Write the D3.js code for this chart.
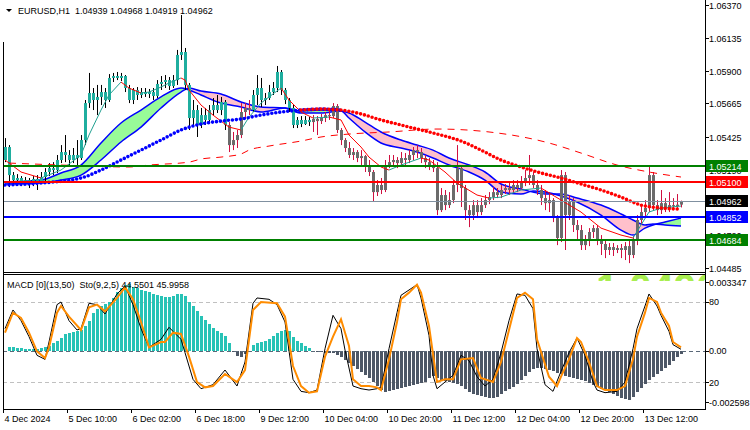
<!DOCTYPE html>
<html>
<head>
<meta charset="utf-8">
<script src="https://cdn.jsdelivr.net/npm/d3@7"></script>
<style>
  body { margin: 0; background: #fff; }
  svg { display: block; font-family: "Liberation Sans", Arial, sans-serif; font-size: 9px; }
</style>
</head>
<body>
<svg id="chart" width="750" height="430"></svg>
<script>
// ---- data ----
const symbol = "EURUSD,H1";
const lastQuote = [1.04939, 1.04968, 1.04919, 1.04962];

// hourly candles [open, high, low, close]
const candles = [
  [1.05259,1.05416,1.05244,1.05352],[1.05352,1.05366,1.05065,1.05151],[1.05151,1.05173,1.05080,1.05115],[1.05115,1.05158,1.05087,1.05130],
  [1.05130,1.05144,1.05072,1.05101],[1.05101,1.05137,1.05080,1.05115],[1.05115,1.05130,1.05058,1.05094],[1.05094,1.05144,1.05072,1.05123],
  [1.05123,1.05151,1.05044,1.05108],[1.05108,1.05173,1.05087,1.05137],[1.05137,1.05201,1.05101,1.05173],[1.05173,1.05237,1.05144,1.05201],
  [1.05201,1.05244,1.05151,1.05187],[1.05187,1.05295,1.05166,1.05259],[1.05259,1.05366,1.05237,1.05316],[1.05316,1.05438,1.05244,1.05295],
  [1.05295,1.05330,1.05223,1.05259],[1.05259,1.05345,1.05237,1.05295],[1.05295,1.05402,1.05223,1.05273],[1.05273,1.05438,1.05259,1.05402],
  [1.05402,1.05689,1.05366,1.05667],[1.05667,1.05883,1.05632,1.05739],[1.05739,1.05775,1.05617,1.05689],[1.05689,1.05797,1.05581,1.05711],
  [1.05711,1.05797,1.05653,1.05746],[1.05746,1.05775,1.05632,1.05689],[1.05689,1.05875,1.05675,1.05847],[1.05847,1.05883,1.05818,1.05861],
  [1.05861,1.05890,1.05832,1.05847],[1.05847,1.05883,1.05825,1.05861],[1.05861,1.05868,1.05746,1.05775],[1.05775,1.05797,1.05667,1.05689],
  [1.05689,1.05775,1.05660,1.05761],[1.05761,1.05782,1.05689,1.05725],[1.05725,1.05775,1.05703,1.05746],[1.05746,1.05775,1.05711,1.05732],
  [1.05732,1.05768,1.05703,1.05746],[1.05746,1.05775,1.05689,1.05718],[1.05718,1.05832,1.05703,1.05804],[1.05804,1.05861,1.05761,1.05818],
  [1.05818,1.05868,1.05775,1.05832],[1.05832,1.05854,1.05761,1.05789],[1.05789,1.05868,1.05775,1.05832],[1.05832,1.06048,1.05797,1.06012],
  [1.06012,1.06298,1.05976,1.06033],[1.06033,1.06062,1.05761,1.05797],[1.05797,1.05811,1.05474,1.05560],[1.05560,1.05689,1.05510,1.05617],
  [1.05617,1.05653,1.05424,1.05510],[1.05510,1.05632,1.05488,1.05581],[1.05581,1.05632,1.05510,1.05546],[1.05546,1.05653,1.05517,1.05617],
  [1.05617,1.05703,1.05581,1.05653],[1.05653,1.05725,1.05596,1.05617],[1.05617,1.05711,1.05581,1.05675],[1.05675,1.05689,1.05474,1.05510],
  [1.05510,1.05531,1.05316,1.05366],[1.05366,1.05460,1.05330,1.05402],[1.05402,1.05474,1.05345,1.05438],[1.05438,1.05667,1.05416,1.05603],
  [1.05603,1.05667,1.05560,1.05632],[1.05632,1.05689,1.05581,1.05617],[1.05617,1.05761,1.05603,1.05725],[1.05725,1.05868,1.05653,1.05775],
  [1.05775,1.05847,1.05639,1.05689],[1.05689,1.05739,1.05653,1.05703],[1.05703,1.05797,1.05689,1.05746],[1.05746,1.05818,1.05725,1.05775],
  [1.05775,1.05933,1.05746,1.05890],[1.05890,1.05904,1.05725,1.05761],[1.05761,1.05775,1.05660,1.05689],[1.05689,1.05703,1.05603,1.05632],
  [1.05632,1.05653,1.05488,1.05510],[1.05510,1.05567,1.05488,1.05546],[1.05546,1.05574,1.05495,1.05517],[1.05517,1.05574,1.05510,1.05546],
  [1.05546,1.05567,1.05503,1.05531],[1.05531,1.05581,1.05460,1.05553],[1.05553,1.05574,1.05438,1.05538],[1.05538,1.05589,1.05517,1.05560],
  [1.05560,1.05603,1.05531,1.05581],[1.05581,1.05617,1.05546,1.05574],[1.05574,1.05667,1.05560,1.05646],[1.05646,1.05660,1.05452,1.05474],
  [1.05474,1.05488,1.05366,1.05402],[1.05402,1.05416,1.05316,1.05345],[1.05345,1.05388,1.05273,1.05295],[1.05295,1.05345,1.05259,1.05316],
  [1.05316,1.05330,1.05244,1.05273],[1.05273,1.05330,1.05223,1.05287],[1.05287,1.05295,1.05173,1.05223],[1.05223,1.05259,1.05144,1.05173],
  [1.05173,1.05187,1.04958,1.05029],[1.05029,1.05115,1.05001,1.05080],[1.05080,1.05130,1.05015,1.05044],[1.05044,1.05259,1.05029,1.05223],
  [1.05223,1.05295,1.05201,1.05244],[1.05244,1.05295,1.05216,1.05259],[1.05259,1.05280,1.05201,1.05237],[1.05237,1.05316,1.05216,1.05273],
  [1.05273,1.05309,1.05223,1.05259],[1.05259,1.05330,1.05237,1.05295],[1.05295,1.05352,1.05259,1.05330],[1.05330,1.05366,1.05273,1.05316],
  [1.05316,1.05345,1.05237,1.05273],[1.05273,1.05295,1.05201,1.05244],[1.05244,1.05273,1.05187,1.05223],[1.05223,1.05259,1.05173,1.05201],
  [1.05201,1.05244,1.04864,1.04900],[1.04900,1.05058,1.04886,1.05008],[1.05008,1.05044,1.04900,1.04936],[1.04936,1.05029,1.04915,1.04972],
  [1.04972,1.05115,1.04950,1.05080],[1.05080,1.05366,1.05029,1.05201],[1.05201,1.05223,1.04922,1.05058],[1.05058,1.05080,1.04829,1.04900],
  [1.04900,1.04936,1.04778,1.04864],[1.04864,1.04972,1.04829,1.04936],[1.04936,1.04972,1.04843,1.04886],[1.04886,1.04986,1.04864,1.04936],
  [1.04936,1.05008,1.04915,1.04972],[1.04972,1.05029,1.04943,1.04993],[1.04993,1.05065,1.04972,1.05029],[1.05029,1.05058,1.04986,1.05008],
  [1.05008,1.05080,1.04986,1.05044],[1.05044,1.05087,1.05015,1.05058],[1.05058,1.05094,1.05008,1.05044],[1.05044,1.05115,1.05022,1.05080],
  [1.05080,1.05115,1.05029,1.05058],[1.05058,1.05144,1.05044,1.05101],[1.05101,1.05187,1.05072,1.05130],[1.05130,1.05295,1.05080,1.05151],
  [1.05151,1.05173,1.05058,1.05080],[1.05080,1.05115,1.05008,1.05044],[1.05044,1.05080,1.04936,1.04986],[1.04986,1.05044,1.04900,1.04950],
  [1.04950,1.05022,1.04886,1.04972],[1.04972,1.04986,1.04814,1.04843],[1.04843,1.04864,1.04649,1.04700],[1.04700,1.05187,1.04671,1.05151],
  [1.05151,1.05173,1.04614,1.04864],[1.04864,1.05008,1.04829,1.04958],[1.04958,1.04986,1.04743,1.04793],[1.04793,1.04829,1.04685,1.04757],
  [1.04757,1.04793,1.04614,1.04649],[1.04649,1.04721,1.04614,1.04685],[1.04685,1.04771,1.04642,1.04743],[1.04743,1.04793,1.04700,1.04771],
  [1.04771,1.04793,1.04649,1.04685],[1.04685,1.04721,1.04578,1.04657],[1.04657,1.04685,1.04556,1.04614],[1.04614,1.04664,1.04578,1.04635],
  [1.04635,1.04664,1.04571,1.04614],[1.04614,1.04649,1.04592,1.04628],[1.04628,1.04657,1.04556,1.04614],[1.04614,1.04671,1.04542,1.04642],
  [1.04642,1.04685,1.04520,1.04578],[1.04578,1.04714,1.04556,1.04685],[1.04685,1.04864,1.04649,1.04829],[1.04829,1.04936,1.04793,1.04886],
  [1.04886,1.04972,1.04843,1.04915],[1.04915,1.05223,1.04886,1.05151],[1.05151,1.05173,1.04900,1.04936],[1.04936,1.04972,1.04864,1.04900],
  [1.04900,1.05044,1.04872,1.04950],[1.04950,1.04986,1.04886,1.04915],[1.04915,1.05029,1.04886,1.04936],[1.04936,1.04986,1.04900,1.04929],
  [1.04929,1.05015,1.04900,1.04939],[1.04939,1.04968,1.04919,1.04962]
];
// bar ranges painted in the "up trend" colour
const tealRuns = [[0, 55], [62, 76]];

const timeLabels = ["4 Dec 2024", "5 Dec 10:00", "6 Dec 02:00", "6 Dec 18:00", "9 Dec 12:00", "10 Dec 04:00",
                    "10 Dec 20:00", "11 Dec 12:00", "12 Dec 04:00", "12 Dec 20:00", "13 Dec 12:00"];
const priceTicks = [1.06370, 1.06135, 1.05900, 1.05665, 1.05425, 1.05190, 1.04955, 1.04720, 1.04485];
const levels = [1.05214, 1.05100, 1.04962, 1.04852, 1.04684];

// dotted moving average (blue while rising, red while falling)
const dotMaBars = [0,9,19,24,29,34,39,44,49,54,59,64,69,74,79,84,89,94,99,104,109,114,119,124,129,134,139,144,149,154,159,164,169];
const dotMaValues = [1.05080,1.05094,1.05130,1.05187,1.05259,1.05330,1.05402,1.05474,1.05517,1.05538,1.05553,1.05581,1.05603,1.05617,
  1.05624,1.05617,1.05589,1.05546,1.05510,1.05474,1.05438,1.05395,1.05330,1.05259,1.05209,1.05166,1.05130,1.05087,1.05044,1.04993,
  1.04936,1.04915,1.04907];

// dashed slow moving average
const slowMaBars = [1,14,31,36,46,49,54,59,61,66,74,79,86,96,108,121,136,144,153,161,169];
const slowMaValues = [1.05237,1.05223,1.05209,1.05223,1.05244,1.05266,1.05280,1.05302,1.05330,1.05359,1.05395,1.05424,1.05445,
  1.05460,1.05481,1.05460,1.05381,1.05309,1.05223,1.05173,1.05137];

// ribbon: fast and slow lines
const ribbonBars = [0,9,14,19,24,29,34,39,44,46,49,54,59,64,70,74,79,84,86,90,94,99,103,107,111,116,120,124,129,132,135,139,143,
  149,154,157,160,162,165,169];
const ribbonFast = [1.05101,1.05115,1.05166,1.05223,1.05381,1.05524,1.05617,1.05711,1.05775,1.05761,1.05725,1.05667,1.05639,1.05603,
  1.05632,1.05610,1.05617,1.05610,1.05560,1.05460,1.05381,1.05345,1.05316,1.05273,1.05223,1.05173,1.05115,1.05029,1.05015,1.05036,
  1.05029,1.05001,1.04958,1.04864,1.04757,1.04721,1.04771,1.04793,1.04814,1.04843];
const ribbonSlow = [1.05087,1.05094,1.05115,1.05151,1.05259,1.05388,1.05495,1.05632,1.05746,1.05775,1.05753,1.05732,1.05675,1.05639,
  1.05632,1.05596,1.05596,1.05610,1.05596,1.05531,1.05460,1.05402,1.05366,1.05330,1.05273,1.05223,1.05173,1.05087,1.05051,1.05029,
  1.05015,1.05015,1.04986,1.04936,1.04872,1.04829,1.04793,1.04800,1.04793,1.04786];

// thin fast moving average
const fastMaBars = [0,4,9,14,19,21,24,26,29,31,34,36,39,41,44,45,46,49,52,56,59,61,64,66,69,71,74,77,81,84,86,89,91,94,96,99,104,
  106,110,113,118,121,124,129,134,139,144,149,154,157,159,161,164,169];
const fastMaValues = [1.05259,1.05173,1.05130,1.05187,1.05295,1.05438,1.05617,1.05725,1.05818,1.05775,1.05739,1.05746,1.05782,
  1.05811,1.05847,1.05832,1.05761,1.05653,1.05581,1.05495,1.05474,1.05567,1.05667,1.05711,1.05775,1.05689,1.05603,1.05560,1.05567,
  1.05546,1.05438,1.05352,1.05280,1.05209,1.05187,1.05223,1.05273,1.05259,1.05173,1.05094,1.05008,1.04986,1.04993,1.05044,1.05058,
  1.04972,1.04886,1.04771,1.04721,1.04700,1.04793,1.04886,1.04915,1.04929];

// MACD histogram, one value per bar
const macdRange = [-0.002598, 0.003347];
const macdHist = [
  -0.00004,0.00018,0.00018,0.00013,0.00013,0.00009,0.00009,0.00009,0.00009,0.00013,0.00018,0.00022,0.00036,0.00045,0.00058,0.00076,
  0.00080,0.00085,0.00089,0.00094,0.00112,0.00134,0.00170,0.00188,0.00201,0.00210,0.00219,0.00237,0.00264,0.00282,0.00295,0.00299,
  0.00286,0.00282,0.00273,0.00268,0.00264,0.00255,0.00250,0.00246,0.00241,0.00241,0.00246,0.00255,0.00255,0.00246,0.00219,0.00201,
  0.00179,0.00156,0.00139,0.00121,0.00103,0.00089,0.00080,0.00067,0.00036,-0.00004,-0.00022,-0.00027,-0.00013,0.00001,0.00027,0.00036,
  0.00040,0.00045,0.00054,0.00067,0.00080,0.00089,0.00094,0.00089,0.00063,0.00045,0.00036,0.00022,0.00013,-0.00004,-0.00004,-0.00004,
  -0.00009,-0.00009,-0.00009,-0.00018,-0.00027,-0.00040,-0.00054,-0.00067,-0.00080,-0.00094,-0.00107,-0.00121,-0.00139,-0.00156,-0.00174,-0.00183,
  -0.00179,-0.00174,-0.00170,-0.00165,-0.00161,-0.00156,-0.00152,-0.00148,-0.00143,-0.00139,-0.00121,-0.00112,-0.00121,-0.00130,-0.00134,-0.00139,
  -0.00143,-0.00148,-0.00156,-0.00170,-0.00183,-0.00192,-0.00197,-0.00201,-0.00206,-0.00210,-0.00210,-0.00206,-0.00192,-0.00179,-0.00170,-0.00161,
  -0.00148,-0.00130,-0.00112,-0.00094,-0.00080,-0.00076,-0.00076,-0.00080,-0.00085,-0.00089,-0.00098,-0.00103,-0.00112,-0.00116,-0.00121,-0.00125,
  -0.00130,-0.00134,-0.00143,-0.00152,-0.00161,-0.00170,-0.00174,-0.00183,-0.00192,-0.00201,-0.00210,-0.00215,-0.00219,-0.00206,-0.00183,-0.00165,
  -0.00148,-0.00130,-0.00116,-0.00103,-0.00089,-0.00076,-0.00063,-0.00045,-0.00027,-0.00013
];

// stochastic %K (black) and %D (orange)
const stochLevels = [80, 20];
const stochMainBars = [0,2,4,6,8,10,11,13,14,16,18,19,21,23,25,28,30,32,34,36,39,41,42,44,45,47,49,52,55,58,60,62,63,66,68,70,72,
  74,76,78,80,82,84,85,87,89,91,93,94,96,98,99,101,103,104,106,107,108,110,112,114,116,118,120,122,124,126,128,130,132,133,135,137,
  139,141,143,145,147,148,150,153,155,157,158,160,161,163,164,166,167,169];
const stochMain = [60,74,66,54,40,37,50,78,80,66,59,60,79,78,71,86,92,78,60,46,52,61,58,52,42,22,15,18,29,17,35,79,83,82,78,65,22,
  13,12,14,45,70,60,44,17,15,14,15,16,45,72,85,89,93,83,55,25,15,20,25,40,36,24,17,22,42,66,86,85,75,45,18,13,28,42,53,40,20,14,12,
  13,20,45,60,77,86,77,70,58,48,44.5501];
const stochSignalBars = [0,2,4,6,8,10,11,13,14,16,19,21,23,25,28,30,32,34,36,39,40,42,44,46,48,50,52,55,58,60,62,64,68,70,72,74,
  76,78,80,82,84,86,87,89,91,93,94,96,98,99,101,103,104,106,108,110,112,114,117,119,122,124,126,128,130,132,133,136,138,139,141,143,
  144,146,148,150,153,155,157,158,160,161,163,164,166,167,169];
const stochSignal = [57,72,68,57,43,38,46,72,77,69,59,76,78,73,83,91,82,65,46,50,50,57,56,39,20,16,17,26,20,29,74,80,79,69,32,17,
  12,13,39,54,67,47,22,17,17,16,14,37,65,82,87,93,87,62,20,22,22,37,38,23,20,35,59,83,87,82,52,24,17,24,37,53,50,35,17,14,14,17,37,
  54,72,83,80,72,62,50,45.9958];

// ---- layout ----
const svg = d3.select("#chart");
const plotL = 3, plotR = 705;
const mainTop = 0, mainBot = 272;
const subTop = 275, subBot = 409;

const x = d3.scaleLinear().domain([0, 175]).range([5, 705]);
const y = d3.scaleLinear().domain([1.04485, 1.06370]).range([268, 5]);
const yM = d3.scaleLinear().domain(macdRange).range([subBot, subTop + 1]);
const yS = d3.scaleLinear().domain([0, 100]).range([subBot - 0.3, subTop + 0.3]);

const defs = svg.append("defs");
defs.append("clipPath").attr("id", "clipMain").append("rect")
  .attr("x", plotL + 1).attr("y", mainTop).attr("width", plotR - plotL - 1).attr("height", mainBot - mainTop);
defs.append("clipPath").attr("id", "clipSub").append("rect")
  .attr("x", plotL + 1).attr("y", subTop).attr("width", plotR - plotL - 1).attr("height", subBot - subTop);

const main = svg.append("g").attr("clip-path", "url(#clipMain)");

// ribbon fill (difference chart): green where fast is above slow, pink otherwise
const rib = ribbonBars.map((b, k) => ({ b, f: ribbonFast[k], s: ribbonSlow[k] }));
const curve = d3.curveMonotoneX;
defs.append("clipPath").attr("id", "belowFast").append("path")
  .attr("d", d3.area().curve(curve).x(d => x(d.b)).y0(mainBot).y1(d => y(d.f))(rib));
defs.append("clipPath").attr("id", "aboveFast").append("path")
  .attr("d", d3.area().curve(curve).x(d => x(d.b)).y0(mainTop).y1(d => y(d.f))(rib));
main.append("path").attr("clip-path", "url(#belowFast)")
  .attr("d", d3.area().curve(curve).x(d => x(d.b)).y0(mainTop).y1(d => y(d.s))(rib))
  .attr("fill", "#98fb98");
main.append("path").attr("clip-path", "url(#aboveFast)")
  .attr("d", d3.area().curve(curve).x(d => x(d.b)).y0(mainBot).y1(d => y(d.s))(rib))
  .attr("fill", "#ffc0cb");
["f", "s"].forEach(k => {
  main.append("path")
    .attr("d", d3.line().curve(curve).x(d => x(d.b)).y(d => y(d[k]))(rib))
    .attr("fill", "none").attr("stroke", "#0000ff").attr("stroke-width", 1.5);
});

// candles
const isTeal = i => tealRuns.some(([a, b]) => i >= a && i <= b);
const cg = main.append("g");
cg.selectAll("line").data(candles).join("line")
  .attr("x1", (d, i) => Math.round(x(i)) + 0.5).attr("x2", (d, i) => Math.round(x(i)) + 0.5)
  .attr("y1", d => y(d[1])).attr("y2", d => y(d[2]))
  .attr("stroke", (d, i) => isTeal(i) ? "#000" : "#d01040").attr("stroke-width", 1);
cg.selectAll("rect").data(candles).join("rect")
  .attr("x", (d, i) => Math.round(x(i)) - 1).attr("width", 3)
  .attr("y", d => y(Math.max(d[0], d[3])))
  .attr("height", d => Math.max(1, Math.abs(y(d[0]) - y(d[3]))))
  .attr("fill", (d, i) => isTeal(i) ? "#1fae9f" : "#6b6b6b");

// thin fast MA, coloured by slope
const fastPts = fastMaBars.map((b, k) => [x(b), y(fastMaValues[k])]);
d3.pairs(fastPts).forEach(([p, q]) => {
  main.append("line").attr("x1", p[0]).attr("y1", p[1]).attr("x2", q[0]).attr("y2", q[1])
    .attr("stroke", q[1] < p[1] ? "#20a090" : "#ff0000").attr("stroke-width", 1);
});

// dashed slow MA
main.append("path")
  .attr("d", d3.line().curve(curve).x((b, k) => x(b)).y((b, k) => y(slowMaValues[k]))(slowMaBars))
  .attr("fill", "none").attr("stroke", "#ff0000").attr("stroke-width", 1).attr("stroke-dasharray", "7,6");

// dotted MA
const dots = dotMaBars.map((b, k) => ({ b, v: dotMaValues[k] }));
const dotLine = d3.line().curve(curve).x(d => x(d.b)).y(d => y(d.v));
main.append("path").attr("d", dotLine(dots.filter(d => d.b <= 84)))
  .attr("fill", "none").attr("stroke", "#0000ff").attr("stroke-width", 3.6)
  .attr("stroke-linecap", "round").attr("stroke-dasharray", "0,4");
main.append("path").attr("d", dotLine(dots.filter(d => d.b >= 74)))
  .attr("fill", "none").attr("stroke", "#ff0000").attr("stroke-width", 3.6)
  .attr("stroke-linecap", "round").attr("stroke-dasharray", "0,4");

// horizontal levels
const levelColor = ["#008000", "#ff0000", "#000000", "#0000ff", "#008000"];
levels.forEach((v, k) => {
  const isBid = k === 2;
  main.append("line").attr("x1", plotL).attr("x2", plotR)
    .attr("y1", Math.round(y(v)) + (isBid ? 0.5 : 0)).attr("y2", Math.round(y(v)) + (isBid ? 0.5 : 0))
    .attr("stroke", isBid ? "#8090a0" : levelColor[k]).attr("stroke-width", isBid ? 1 : 2);
});

// ---- indicator window ----
const sub = svg.append("g").attr("clip-path", "url(#clipSub)");
// watermark remnant at the top of the window
sub.append("text").attr("x", 596).attr("y", 302).text("1.0496")
  .attr("font-size", 40).attr("font-weight", "bold").attr("fill", "#a8ee50");
sub.append("rect").attr("x", plotL).attr("y", 281).attr("width", plotR - plotL).attr("height", subBot - 281).attr("fill", "#fff");

stochLevels.forEach(v => {
  sub.append("line").attr("x1", plotL).attr("x2", plotR)
    .attr("y1", Math.round(yS(v)) + 0.5).attr("y2", Math.round(yS(v)) + 0.5)
    .attr("stroke", "#c0c0c0").attr("stroke-dasharray", "4,3");
});
sub.selectAll("rect.h").data(macdHist).join("rect").attr("class", "h")
  .attr("x", (d, i) => Math.round(x(i)) - 1).attr("width", 3)
  .attr("y", d => Math.round(Math.min(yM(d), yM(0))))
  .attr("height", d => Math.max(1, Math.round(Math.abs(yM(d) - yM(0)))))
  .attr("fill", d => d >= 0 ? "#27c3b6" : "#4d5766");
sub.append("line").attr("x1", plotL).attr("x2", plotR)
  .attr("y1", Math.round(yM(0)) + 0.5).attr("y2", Math.round(yM(0)) + 0.5)
  .attr("stroke", "#5a6878").attr("stroke-dasharray", "4,3");

sub.append("path")
  .attr("d", d3.line().x(b => x(b)).y((b, k) => yS(stochMain[k]))(stochMainBars))
  .attr("fill", "none").attr("stroke", "#000").attr("stroke-width", 1);
sub.append("path")
  .attr("d", d3.line().x(b => x(b)).y((b, k) => yS(stochSignal[k]))(stochSignalBars))
  .attr("fill", "none").attr("stroke", "#ff8c00").attr("stroke-width", 2);

// ---- frames ----
const frame = svg.append("g").attr("stroke", "#000").attr("stroke-width", 1);
frame.append("line").attr("x1", plotL + 0.5).attr("x2", plotL + 0.5).attr("y1", 42).attr("y2", subBot + 0.5);
frame.append("line").attr("x1", plotR + 0.5).attr("x2", plotR + 0.5).attr("y1", 0).attr("y2", subBot + 0.5);
frame.append("line").attr("x1", plotL).attr("x2", plotR + 1).attr("y1", mainBot + 0.5).attr("y2", mainBot + 0.5);
frame.append("line").attr("x1", plotL).attr("x2", plotR + 1).attr("y1", subTop - 0.5).attr("y2", subTop - 0.5);
frame.append("line").attr("x1", plotL).attr("x2", plotR + 1).attr("y1", subBot + 0.5).attr("y2", subBot + 0.5);

// price axis
priceTicks.forEach(v => {
  const py = Math.round(y(v)) + 0.5;
  svg.append("line").attr("x1", plotR).attr("x2", plotR + 4).attr("y1", py).attr("y2", py).attr("stroke", "#000");
  svg.append("text").attr("x", plotR + 4).attr("y", py + 3.5).text(v.toFixed(5));
});
levels.forEach((v, k) => {
  const py = Math.round(y(v));
  svg.append("rect").attr("x", plotR + 1).attr("y", py - 6).attr("width", 42).attr("height", 12).attr("fill", levelColor[k]);
  svg.append("text").attr("x", plotR + 4).attr("y", py + 3.5).attr("fill", "#fff").text(v.toFixed(5));
});

// indicator axis
const subLabels = [
  [yM(macdRange[1]) + 6, macdRange[1].toFixed(6)],
  [yS(80), "80"],
  [yM(0), "0.00"],
  [yS(20), "20"],
  [yM(macdRange[0]) - 7, macdRange[0].toFixed(6)]
];
subLabels.forEach(([py, t]) => {
  svg.append("line").attr("x1", plotR).attr("x2", plotR + 4).attr("y1", Math.round(py) + 0.5).attr("y2", Math.round(py) + 0.5).attr("stroke", "#000");
  svg.append("text").attr("x", plotR + 4).attr("y", py + 3.5).text(t);
});

// time axis
timeLabels.forEach((t, k) => {
  const tx = Math.round(x(k * 16)) - 1.5;
  svg.append("line").attr("x1", tx).attr("x2", tx).attr("y1", subBot).attr("y2", subBot + 4).attr("stroke", "#000");
  svg.append("text").attr("x", tx + 1).attr("y", subBot + 13).text(t);
});

// titles
svg.append("path").attr("d", "M6,9 L12,9 L9,12 Z").attr("fill", "#000");
svg.append("text").attr("x", 18).attr("y", 14)
  .text(`${symbol}  ${lastQuote.map(v => v.toFixed(5)).join(" ")}`).attr("xml:space", "preserve");
svg.append("text").attr("x", 7).attr("y", 288)
  .text(`MACD [0](13,50)  Sto(9,2,5) ${stochMain[stochMain.length - 1].toFixed(4)} ${stochSignal[stochSignal.length - 1].toFixed(4)}`)
  .attr("xml:space", "preserve");
</script>
</body>
</html>
